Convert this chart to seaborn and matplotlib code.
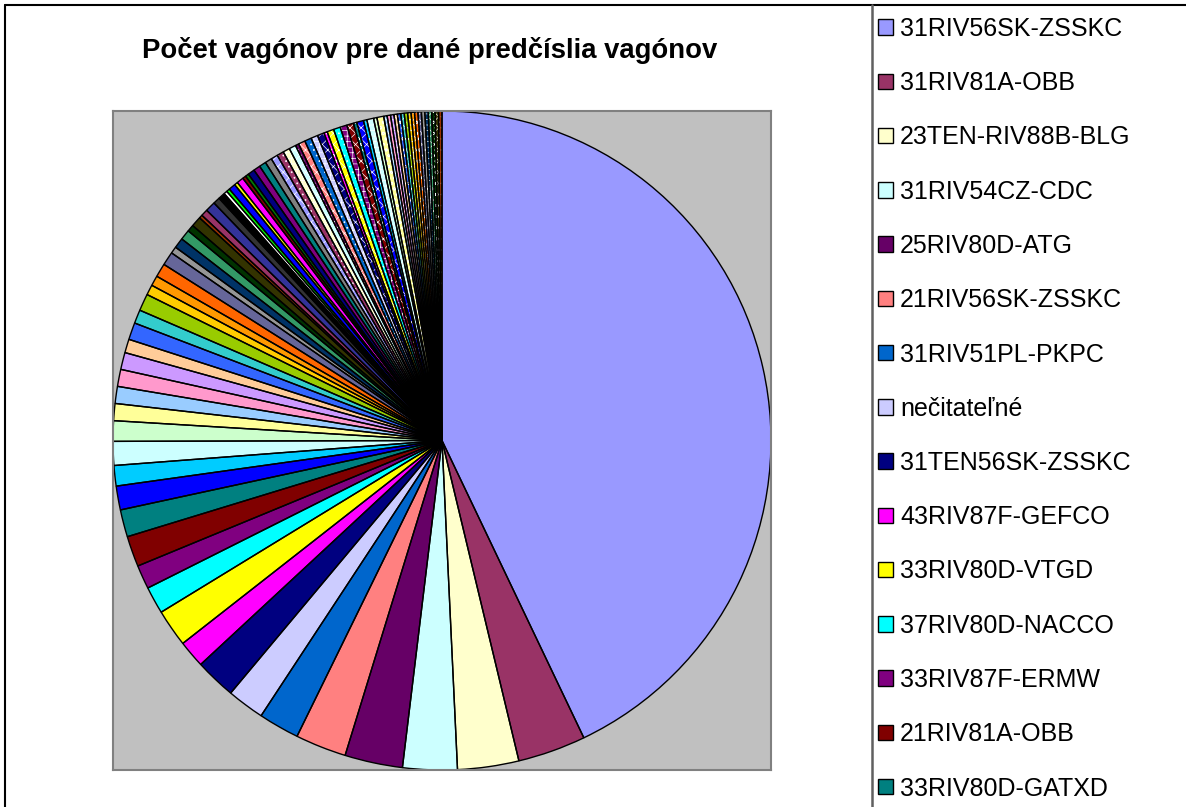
import matplotlib
matplotlib.use("Agg")
import matplotlib.pyplot as plt
import seaborn as sns
from matplotlib.patches import Patch
from matplotlib.lines import Line2D

# wagon counts per prefix (largest first)
top_values = [257, 20, 18, 16, 17, 15, 12, 11, 12, 8, 11, 8, 7, 9, 8,
              7, 6, 7, 6, 5, 5, 5, 5, 4, 5, 4, 5, 3, 3, 4, 4, 2, 3, 3]
mid_values = [2, 3, 1, 2, 3, 2,
              2, 1, 1, 2, 1, 2, 1, 1, 2, 2, 2, 2]
tail_values = [2, 2, 2, 2, 1, 2, 2, 2, 2, 1, 2, 2, 2, 2, 1, 2, 1, 2, 1, 2,
               1, 1, 1, 1, 1, 1, 1, 1, 1, 1, 1, 1, 1, 1, 1, 1, 1]

legend_labels = ["31RIV56SK-ZSSKC", "31RIV81A-OBB", "23TEN-RIV88B-BLG", "31RIV54CZ-CDC",
                 "25RIV80D-ATG", "21RIV56SK-ZSSKC", "31RIV51PL-PKPC", "nečitateľné",
                 "31TEN56SK-ZSSKC", "43RIV87F-GEFCO", "33RIV80D-VTGD", "37RIV80D-NACCO",
                 "33RIV87F-ERMW", "21RIV81A-OBB", "33RIV80D-GATXD"]

# old Excel chart palette
base_colors = ['#9999FF', '#993366', '#FFFFCC', '#CCFFFF', '#660066', '#FF8080', '#0066CC', '#CCCCFF',
               '#000080', '#FF00FF', '#FFFF00', '#00FFFF', '#800080', '#800000', '#008080', '#0000FF',
               '#00CCFF', '#CCFFFF', '#CCFFCC', '#FFFF99', '#99CCFF', '#FF99CC', '#CC99FF', '#FFCC99',
               '#3366FF', '#33CCCC', '#99CC00', '#FFCC00', '#FF9900', '#FF6600', '#666699', '#969696',
               '#003366', '#339966', '#003300', '#333300', '#993300', '#993366', '#333399', '#333333']
extra_colors = ['#000000', '#FFFFFF', '#00FF00', '#0000FF', '#FFFF00', '#FF00FF',
                '#800000', '#008000', '#000080', '#800080', '#008080', '#808080']

values = top_values + mid_values + tail_values
n_solid = len(top_values) + len(mid_values)
colors = base_colors + extra_colors
colors = colors + [base_colors[i % len(base_colors)] for i in range(len(tail_values))]

sns.set_theme(style="white")
plt.rcParams['font.family'] = ['Liberation Sans', 'DejaVu Sans']
plt.rcParams['text.color'] = 'black'
plt.rcParams['hatch.linewidth'] = 0.5

W, H = 1186, 807
fig = plt.figure(figsize=(W / 100, H / 100), dpi=100)
fig.patch.set_facecolor('white')

ax = fig.add_axes([113 / W, 1 - 770 / H, 658 / W, 659 / H])

# fill pass (patterned slices get a light hatch over the colour)
wedges, _ = ax.pie(values, colors=colors, startangle=90, counterclock=False,
                   radius=1, wedgeprops={'linewidth': 0})
hatches = ['xxx', '...', '+++', 'xxx', 'ooo']
for i, w in enumerate(wedges[n_solid:]):
    w.set_hatch(hatches[i % len(hatches)])
    w.set_edgecolor('white')
    w.set_linewidth(0)

# outline pass
ax.pie(values, startangle=90, counterclock=False, radius=1,
       wedgeprops={'facecolor': 'none', 'edgecolor': 'black', 'linewidth': 1.0})

ax.set_frame_on(True)
ax.set_facecolor('#C0C0C0')
for s in ax.spines.values():
    s.set_color('#808080')
    s.set_linewidth(1.5)
    s.set_visible(True)
ax.set_xlim(-1.0, 1.0)
ax.set_ylim(-1.0, 1.0)
ax.set_aspect('auto')
ax.set_xticks([])
ax.set_yticks([])

fig.text(430 / W, 1 - 50 / H, "Počet vagónov pre dané predčíslia vagónov",
         ha='center', va='center', fontsize=19.8, fontweight='bold', color='black')

# chart area and legend frame
fig.add_artist(Line2D([5 / W, 1], [1 - 5 / H, 1 - 5 / H], transform=fig.transFigure,
                      color='black', lw=1.5))
fig.add_artist(Line2D([5 / W, 5 / W], [0, 1 - 5 / H], transform=fig.transFigure,
                      color='black', lw=1.5))
fig.add_artist(Line2D([872 / W, 872 / W], [0, 1 - 5 / H], transform=fig.transFigure,
                      color='#606060', lw=1.8))

handles = [Patch(facecolor=c, edgecolor='black', linewidth=1)
           for c in colors[:len(legend_labels)]]
leg = fig.legend(handles, legend_labels, loc='upper left',
                 bbox_to_anchor=(878 / W, 1 - 17 / H), frameon=False, fontsize=18,
                 handlelength=0.58, handleheight=0.58, handletextpad=0.3,
                 labelspacing=1.21, borderpad=0, borderaxespad=0)
for t in leg.get_texts():
    t.set_color('black')

fig.savefig("out.png", dpi=100)
